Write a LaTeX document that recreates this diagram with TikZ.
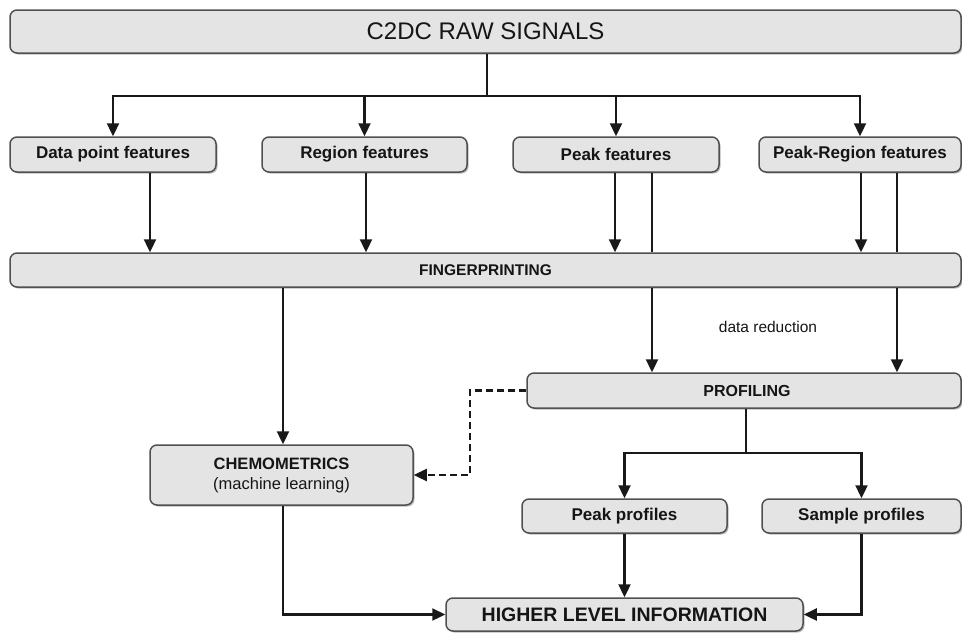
\documentclass[tikz,border=0pt]{standalone}
\usepackage{fontspec}
\setmainfont{Liberation Sans}
\usetikzlibrary{arrows.meta,shadows}
\definecolor{boxfill}{HTML}{E4E4E4}
\definecolor{boxdraw}{HTML}{505050}
\definecolor{txt}{HTML}{151515}
\tikzset{
  box/.style={draw=boxdraw, fill=boxfill, line width=1.5pt, rounded corners=7pt,
    inner sep=0pt, align=center, text=txt,
    drop shadow={shadow xshift=1.5pt, shadow yshift=-1.5pt, fill=black!45, opacity=0.6}},
  conn/.style={line width=2.3pt, draw=black!90},
  arr/.style={conn, -{Triangle[length=13pt,width=12pt]}},
  fb/.style={font=\fontsize{17}{19}\selectfont\bfseries},
}
\begin{document}
\begin{tikzpicture}[x=1pt,y=-1pt]
\useasboundingbox (0,0) rectangle (962,633);
% nodes
\node[box, minimum width=951pt, minimum height=43pt, font=\fontsize{24}{27}\selectfont] (top) at (485.5,31.5) {C2DC RAW SIGNALS};
\node[box, fb, minimum width=206pt, minimum height=35pt] (data) at (113,154.5) {Data point features};
\node[box, fb, minimum width=205pt, minimum height=35pt] (region) at (364.5,154.5) {Region features};
\node[box, fb, minimum width=206pt, minimum height=35pt] (peak) at (616,154.5) {Peak features};
\node[box, fb, minimum width=202pt, minimum height=35pt] (preg) at (860,154.5) {Peak-Region features};
\node[box, minimum width=951pt, minimum height=34pt, font=\fontsize{15.5}{17}\selectfont\bfseries] (fing) at (485.5,270) {FINGERPRINTING};
\node[box, minimum width=434pt, minimum height=35pt, font=\fontsize{16}{18}\selectfont\bfseries] (prof) at (744,390.5) {\hspace*{6pt}PROFILING};
\node[box, minimum width=263pt, minimum height=60pt, font=\fontsize{16.5}{20}\selectfont] (chem) at (281.5,475) {\textbf{CHEMOMETRICS}\\(machine learning)};
\node[box, fb, minimum width=205pt, minimum height=34pt] (peakp) at (624.5,516) {Peak profiles};
\node[box, fb, minimum width=199pt, minimum height=34pt] (sampp) at (861.5,516) {Sample profiles};
\node[box, minimum width=357pt, minimum height=33pt, font=\fontsize{19.5}{21}\selectfont\bfseries] (hli) at (624.5,614.5) {HIGHER LEVEL INFORMATION};
\node[text=txt, font=\fontsize{15.5}{17}\selectfont] (dr) at (768,327) {data reduction};
% helper coordinates
\coordinate (j1) at (487,96);
\coordinate (j2) at (746,453);
\coordinate (xd) at (150,0);
\coordinate (xr) at (366,0);
\coordinate (xp1) at (615,0);
\coordinate (xp2) at (652,0);
\coordinate (xq1) at (861,0);
\coordinate (xq2) at (897,0);
\coordinate (xc) at (283,0);
\coordinate (dsh) at (470,475);
% connectors
\draw[conn] (top.south -| j1) -- (j1);
\draw[arr] (j1) -| (data.north);
\draw[arr] (j1) -| (region.north);
\draw[arr] (j1) -| (peak.north);
\draw[arr] (j1) -| (preg.north);
\draw[arr] (data.south -| xd) -- (fing.north -| xd);
\draw[arr] (region.south -| xr) -- (fing.north -| xr);
\draw[arr] (peak.south -| xp1) -- (fing.north -| xp1);
\draw[conn] (peak.south -| xp2) -- (fing.north -| xp2);
\draw[arr] (fing.south -| xp2) -- (prof.north -| xp2);
\draw[arr] (preg.south -| xq1) -- (fing.north -| xq1);
\draw[conn] (preg.south -| xq2) -- (fing.north -| xq2);
\draw[arr] (fing.south -| xq2) -- (prof.north -| xq2);
\draw[arr] (fing.south -| xc) -- (chem.north -| xc);
\draw[arr, dashed, dash pattern=on 7pt off 4pt] (prof.west) -| (dsh) -- (chem.east |- dsh);
\draw[conn] (prof.south -| j2) -- (j2);
\draw[arr] (j2) -| (peakp.north);
\draw[arr] (j2) -| (sampp.north);
\draw[arr] (chem.south -| xc) |- (hli.west);
\draw[arr] (peakp.south) -- (hli.north);
\draw[arr] (sampp.south) |- (hli.east);
\end{tikzpicture}
\end{document}
